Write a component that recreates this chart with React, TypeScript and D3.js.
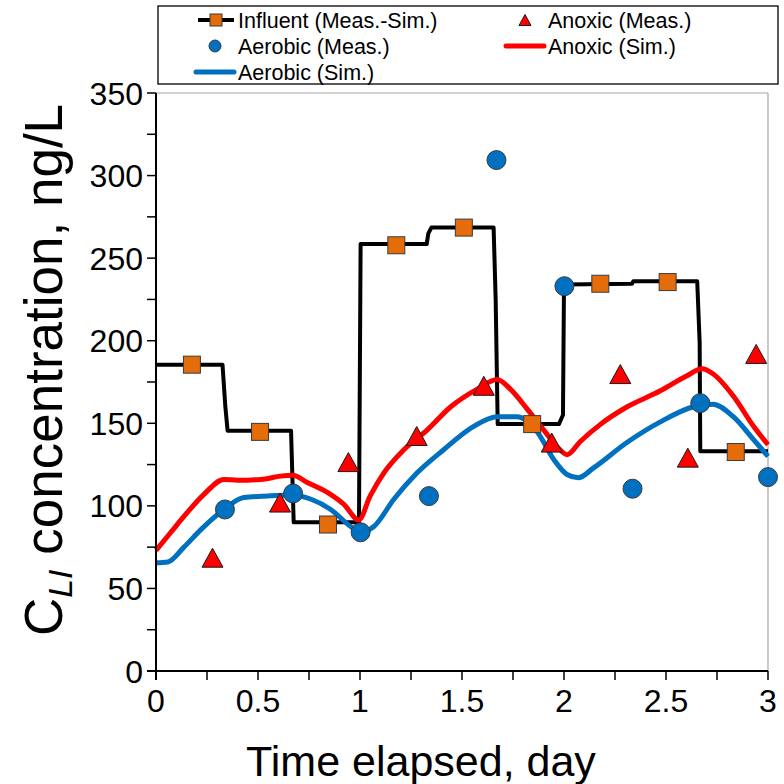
import React from "react";
import * as d3 from "d3";

// ---------- data ----------
const influentLineX = [0, 0.326, 0.34, 0.351, 0.662, 0.675, 0.995, 1.003, 1.327, 1.335, 1.35, 1.655, 1.665, 1.675, 1.975, 1.995, 2.0, 2.333, 2.34, 2.653, 2.665, 2.668, 3.0];
const influentLineY = [185.5, 185.5, 160, 145.5, 145.5, 90, 90, 258.5, 258.5, 265, 268.5, 268.5, 225, 149.5, 149.5, 155, 234, 234.5, 236, 236, 199, 133, 133];

const influentMeasX = [0.176, 0.51, 0.843, 1.178, 1.509, 1.844, 2.178, 2.508, 2.842];
const influentMeasY = [185.5, 144.8, 88.7, 257.8, 268.5, 149.5, 234.5, 235.5, 132.6];

const anoxicMeasX = [0.277, 0.608, 0.943, 1.278, 1.607, 1.94, 2.276, 2.607, 2.942];
const anoxicMeasY = [68.6, 102, 126.5, 142.3, 172.7, 138.3, 179.8, 129.2, 192];

const aerobicMeasX = [0.338, 0.672, 1.003, 1.338, 1.669, 2.002, 2.336, 2.668, 3.0];
const aerobicMeasY = [97.8, 107.5, 84, 105.9, 309.4, 233, 110.4, 162.2, 117.4];

const anoxicSimX = [0, 0.073, 0.137, 0.235, 0.333, 0.4, 0.514, 0.612, 0.67, 0.744, 0.842, 0.92, 0.994, 1.05, 1.117, 1.215, 1.33, 1.445, 1.575, 1.673, 1.737, 1.82, 1.9, 1.98, 2.015, 2.08, 2.18, 2.31, 2.47, 2.6, 2.677, 2.73, 2.83, 2.93, 3.0];
const anoxicSimY = [73, 84, 93.6, 107, 116, 115.5, 116, 118, 118.5, 114, 108, 101, 91.5, 106, 120, 134, 146, 160, 170.7, 176.5, 170.7, 158.6, 146, 134, 131, 139, 149.5, 160, 169.5, 178.6, 183, 180, 166.5, 148, 137];

const aerobicSimX = [0, 0.058, 0.137, 0.22, 0.333, 0.43, 0.55, 0.66, 0.76, 0.856, 0.954, 1.0, 1.068, 1.166, 1.28, 1.41, 1.555, 1.673, 1.77, 1.87, 1.95, 2.015, 2.07, 2.145, 2.31, 2.47, 2.635, 2.73, 2.83, 2.93, 3.0];
const aerobicSimY = [65.5, 66, 75, 85.6, 97.8, 105, 106, 106.5, 104, 97.8, 87.5, 84, 87.5, 104, 120, 134, 148, 154, 154, 144.6, 128, 119, 117, 123, 138.5, 150.7, 160, 161.6, 154, 140, 130];

const xTickValues = [0, 0.5, 1, 1.5, 2, 2.5, 3];
const xTickLabels = ["0", "0.5", "1", "1.5", "2", "2.5", "3"];
const yTickValues = [0, 50, 100, 150, 200, 250, 300, 350];
const yTickLabels = ["0", "50", "100", "150", "200", "250", "300", "350"];

const legendLabels = ["Influent (Meas.-Sim.)", "Anoxic (Meas.)", "Aerobic (Meas.)", "Anoxic (Sim.)", "Aerobic (Sim.)"];

// ---------- style ----------
const FONT = "'Liberation Sans', Arial, Helvetica, sans-serif";
const ORANGE = "#E46C0A";
const BLUE = "#0070C0";
const RED = "#FF0000";

const zip = (xs: number[], ys: number[]) => xs.map((x, i) => [x, ys[i]] as [number, number]);

export default function App() {
  const W = 784, H = 784;
  const left = 156, right = 768, top = 93, bottom = 671;
  const x = d3.scaleLinear().domain([0, 3]).range([left, right]);
  const y = d3.scaleLinear().domain([0, 350]).range([bottom, top]);

  const linLine = d3.line<[number, number]>().x(d => x(d[0])).y(d => y(d[1]));
  const smoothLine = d3.line<[number, number]>().x(d => x(d[0])).y(d => y(d[1])).curve(d3.curveMonotoneX);

  const xMinor = d3.range(0, 3.001, 0.25);
  const yMinor = d3.range(0, 350.1, 25);

  const sq = 17;
  const triPath = (cx: number, cy: number, w = 21, h = 19) =>
    `M${cx},${cy - h / 2}L${cx + w / 2},${cy + h / 2}L${cx - w / 2},${cy + h / 2}Z`;

  const row = [20, 46, 72];
  const LF = 21.5;
  return (
    <svg width={W} height={H} style={{ position: "absolute", left: 0, top: 0, background: "#fff" }} fontFamily={FONT}>
      <rect x={0} y={0} width={W} height={H} fill="#fff" />
      {/* plot frame (light) */}
      <line x1={left} x2={right} y1={top} y2={top} stroke="#A6A6A6" strokeWidth={1.2} />
      <line x1={right} x2={right} y1={top} y2={bottom} stroke="#A6A6A6" strokeWidth={1.2} />

      {/* series lines */}
      <path d={linLine(zip(influentLineX, influentLineY)) || ""} fill="none" stroke="#000" strokeWidth={4} strokeLinejoin="round" />
      <path d={smoothLine(zip(anoxicSimX, anoxicSimY)) || ""} fill="none" stroke={RED} strokeWidth={5} strokeLinejoin="round" />
      <path d={smoothLine(zip(aerobicSimX, aerobicSimY)) || ""} fill="none" stroke={BLUE} strokeWidth={5} strokeLinejoin="round" />

      {/* markers */}
      {influentMeasX.map((v, i) => (
        <rect key={"s" + i} x={x(v) - sq / 2} y={y(influentMeasY[i]) - sq / 2} width={sq} height={sq} fill={ORANGE} stroke="#3a3a3a" strokeWidth={1} />
      ))}
      {anoxicMeasX.map((v, i) => (
        <path key={"t" + i} d={triPath(x(v), y(anoxicMeasY[i]))} fill={RED} stroke="#1a1a1a" strokeWidth={1} />
      ))}
      {aerobicMeasX.map((v, i) => (
        <circle key={"c" + i} cx={x(v)} cy={y(aerobicMeasY[i])} r={9.5} fill={BLUE} stroke="#3a3a3a" strokeWidth={1} />
      ))}

      {/* axes */}
      <line x1={left} x2={left} y1={top} y2={bottom + 9} stroke="#000" strokeWidth={2} />
      <line x1={left - 9} x2={right} y1={bottom} y2={bottom} stroke="#000" strokeWidth={2} />
      {yMinor.map(v => (
        <line key={"yt" + v} x1={left - 9} x2={left} y1={y(v)} y2={y(v)} stroke="#000" strokeWidth={1.5} />
      ))}
      {xMinor.map(v => (
        <line key={"xt" + v} x1={x(v)} x2={x(v)} y1={bottom} y2={bottom + 9} stroke="#000" strokeWidth={1.5} />
      ))}
      {yTickValues.map((v, i) => (
        <text key={"yl" + v} x={left - 13} y={y(v)} dy="0.36em" textAnchor="end" fontSize={32} fill="#000">{yTickLabels[i]}</text>
      ))}
      {xTickValues.map((v, i) => (
        <text key={"xl" + v} x={x(v)} y={712} textAnchor="middle" fontSize={32} fill="#000">{xTickLabels[i]}</text>
      ))}

      {/* axis titles */}
      <text x={421} y={776} textAnchor="middle" fontSize={43} fill="#000">Time elapsed, day</text>
      <text transform={`translate(62,370) rotate(-90)`} textAnchor="middle" fontSize={53} fill="#000">
        C<tspan fontStyle="italic" fontSize={34} dy={10}>LI</tspan><tspan dy={-10}> concentration, ng/L</tspan>
      </text>

      {/* legend */}
      <rect x={158} y={6} width={620} height={78} fill="#fff" stroke="#000" strokeWidth={1.3} />
      <line x1={198} x2={234} y1={row[0]} y2={row[0]} stroke="#000" strokeWidth={4} />
      <rect x={216 - 6} y={row[0] - 6} width={12} height={12} fill={ORANGE} stroke="#3a3a3a" strokeWidth={1} />
      <text x={238} y={row[0]} dy="0.36em" fontSize={LF}>{legendLabels[0]}</text>

      <path d={triPath(525, row[0], 12, 11)} fill={RED} stroke="#1a1a1a" strokeWidth={1} />
      <text x={548} y={row[0]} dy="0.36em" fontSize={LF}>{legendLabels[1]}</text>

      <circle cx={215} cy={row[1]} r={6} fill={BLUE} stroke="#3a3a3a" strokeWidth={1} />
      <text x={238} y={row[1]} dy="0.36em" fontSize={LF}>{legendLabels[2]}</text>

      <line x1={506} x2={544} y1={row[1]} y2={row[1]} stroke={RED} strokeWidth={5} strokeLinecap="round" />
      <text x={548} y={row[1]} dy="0.36em" fontSize={LF}>{legendLabels[3]}</text>

      <line x1={196} x2={234} y1={row[2]} y2={row[2]} stroke={BLUE} strokeWidth={5} strokeLinecap="round" />
      <text x={238} y={row[2]} dy="0.36em" fontSize={LF}>{legendLabels[4]}</text>
    </svg>
  );
}
